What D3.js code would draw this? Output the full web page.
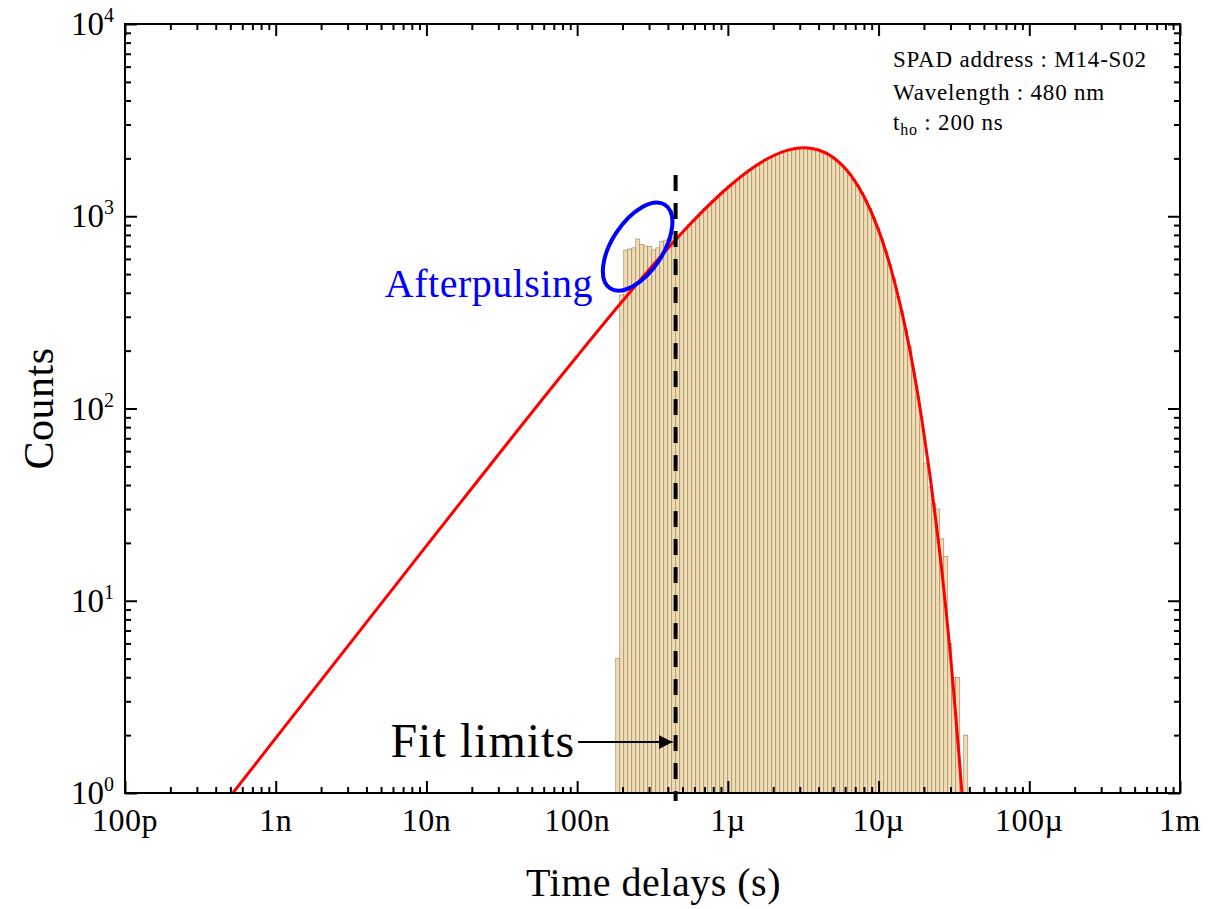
<!DOCTYPE html>
<html><head><meta charset="utf-8">
<script src="https://cdn.jsdelivr.net/npm/d3@7"></script>
<style>
body{margin:0;background:#fff}
text{font-family:"Liberation Serif","Times New Roman",serif;fill:#000}
</style>
</head><body>
<svg id="chart" width="1228" height="909"></svg>
<script>
// ---------------- data ----------------
const xTickValues = [1e-10, 1e-9, 1e-8, 1e-7, 1e-6, 1e-5, 1e-4, 1e-3];
const xTickLabels = ["100p", "1n", "10n", "100n", "1\u00b5", "10\u00b5", "100\u00b5", "1m"];
const yTickValues = [1, 10, 100, 1000, 10000];
const yTickExponents = ["0", "1", "2", "3", "4"];

// histogram: log-spaced bins (log10 of seconds)
const binStartLog = -6.7439;
const binWidthLog = 0.02654;
const binCounts = [
  5, 390, 667, 676, 685, 762, 712, 700, 695, 668,
  685, 738, 752, 767, 775, 776, 817, 860, 905, 951,
  999, 1049, 1101, 1153, 1208, 1264, 1321, 1380, 1439, 1499,
  1559, 1620, 1681, 1741, 1800, 1859, 1915, 1970, 2021, 2070,
  2115, 2155, 2191, 2220, 2244, 2260, 2268, 2269, 2261, 2244,
  2216, 2180, 2134, 2077, 2011, 1936, 1852, 1760, 1661, 1555,
  1445, 1330, 1215, 1099, 984, 870, 761, 658, 562, 476,
  382, 319, 257, 210, 155, 115, 82, 52, 39, 32,
  30, 21, 17, 6, 4, 4, 1, 2
];

// fitted curve
const fitTimes = [5.2e-10, 1e-9, 1e-8, 1e-7, 2e-7, 3e-7, 5e-7, 7e-7, 1e-6, 1.5e-6,
  2e-6, 2.5e-6, 2.8e-6, 3.2e-6, 3.6e-6, 4e-6, 5e-6, 6e-6, 7e-6, 8e-6,
  1e-5, 1.2e-5, 1.4e-5, 1.6e-5, 1.8e-5, 2e-5, 2.2e-5, 2.4e-5, 2.6e-5, 2.8e-5,
  3e-5, 3.2e-5, 3.4e-5, 3.6e-5];
const fitCounts = [1.0, 1.93, 19.3, 187, 362, 527, 825, 1085, 1411, 1810,
  2064, 2207, 2251, 2270, 2254, 2210, 2021, 1775, 1514, 1266,
  847, 544, 340, 208, 125, 74, 44, 26, 15.5, 9,
  5.2, 2.9, 1.65, 0.93];

// annotations
const fitLimitTime = 4.5e-7;
const fitLimitTopCount = 1640;
const arrowStartTime = 1e-7;
const arrowCount = 1.84;
const fitLabel = "Fit limits";
const afterLabel = "Afterpulsing";
const afterEllipseTime = 2.52e-7;
const afterEllipseCount = 695;
const infoLines = ["SPAD address : M14-S02", "Wavelength : 480 nm"];
const xTitle = "Time delays (s)";
const yTitle = "Counts";

// ---------------- layout ----------------
const L = 125, R = 1180, T = 24, B = 793;
const svg = d3.select("#chart");

const x = d3.scaleLog().domain([1e-10, 1e-3]).range([L, R]);
const y = d3.scaleLog().domain([1, 1e4]).range([B, T]);

const defs = svg.append("defs");
defs.append("clipPath").attr("id", "plotclip")
  .append("rect").attr("x", L).attr("y", T).attr("width", R - L).attr("height", B - T);

// bars
const bars = binCounts.map((c, i) => ({
  t0: Math.pow(10, binStartLog + i * binWidthLog),
  t1: Math.pow(10, binStartLog + (i + 1) * binWidthLog),
  c
}));
svg.append("g").attr("clip-path", "url(#plotclip)")
  .selectAll("rect").data(bars).join("rect")
  .attr("x", d => x(d.t0))
  .attr("width", d => x(d.t1) - x(d.t0))
  .attr("y", d => y(d.c))
  .attr("height", d => y(1) - y(d.c))
  .attr("fill", "#f3ddb3")
  .attr("stroke", "#9d8f72")
  .attr("stroke-width", 0.7);

// fit curve
const line = d3.line().x(d => x(d[0])).y(d => y(d[1])).curve(d3.curveMonotoneX);
svg.append("path").attr("clip-path", "url(#plotclip)")
  .datum(fitTimes.map((t, i) => [t, fitCounts[i]]))
  .attr("d", line).attr("fill", "none").attr("stroke", "#ff0000").attr("stroke-width", 3);

// axes: ticks inward, all four sides
function minorValues(lo, hi) {
  const v = [];
  for (let e = lo; e < hi; e++) for (let k = 2; k <= 9; k++) v.push(k * Math.pow(10, e));
  return v;
}
const xMinor = minorValues(-10, -3);
const yMinor = minorValues(0, 4);

function addAxis(gen, tr, vals, size) {
  const g = svg.append("g").attr("transform", tr)
    .call(gen.tickValues(vals).tickSize(size).tickSizeOuter(0).tickFormat(""));
  g.select(".domain").remove();
  g.selectAll("line").attr("stroke", "#000").attr("stroke-width", 2);
}
addAxis(d3.axisBottom(x), `translate(0,${B})`, xTickValues, -12);
addAxis(d3.axisBottom(x), `translate(0,${B})`, xMinor, -6);
addAxis(d3.axisTop(x), `translate(0,${T})`, xTickValues, -12);
addAxis(d3.axisTop(x), `translate(0,${T})`, xMinor, -6);
addAxis(d3.axisLeft(y), `translate(${L},0)`, yTickValues, -12);
addAxis(d3.axisLeft(y), `translate(${L},0)`, yMinor, -6);
addAxis(d3.axisRight(y), `translate(${R},0)`, yTickValues, -12);
addAxis(d3.axisRight(y), `translate(${R},0)`, yMinor, -6);

// frame
svg.append("rect").attr("x", L).attr("y", T).attr("width", R - L).attr("height", B - T)
  .attr("fill", "none").attr("stroke", "#000").attr("stroke-width", 2);

// x tick labels
svg.append("g").selectAll("text").data(xTickValues).join("text")
  .attr("x", d => x(d)).attr("y", B + 38)
  .attr("text-anchor", "middle").attr("font-size", 32).attr("letter-spacing", 0.5)
  .text((d, i) => xTickLabels[i]);

// y tick labels
const yl = svg.append("g").selectAll("text").data(yTickValues).join("text")
  .attr("x", L - 11).attr("y", d => y(d) + 11)
  .attr("text-anchor", "end").attr("font-size", 33);
yl.append("tspan").text("10");
yl.append("tspan").attr("dy", -13).attr("font-size", 20).text((d, i) => yTickExponents[i]);

// titles
svg.append("text").attr("x", (L + R) / 2 + 1).attr("y", 896).attr("text-anchor", "middle")
  .attr("font-size", 40).attr("letter-spacing", 0.5).text(xTitle);
svg.append("text").attr("transform", `translate(53,${(T + B) / 2}) rotate(-90)`)
  .attr("text-anchor", "middle").attr("font-size", 42).attr("letter-spacing", 0.5).text(yTitle);

// info text
const info = svg.append("g");
infoLines.forEach((s, i) => {
  info.append("text").attr("x", 893).attr("y", 67 + i * 32.5)
    .attr("font-size", 23).attr("letter-spacing", 0.8).text(s);
});
const tho = info.append("text").attr("x", 893).attr("y", 130)
  .attr("font-size", 23).attr("letter-spacing", 0.8);
tho.append("tspan").text("t");
tho.append("tspan").attr("dy", 5).attr("font-size", 16).text("ho");
tho.append("tspan").attr("dy", -5).text(" : 200 ns");

// fit limit dashed line
svg.append("line")
  .attr("x1", x(fitLimitTime)).attr("x2", x(fitLimitTime))
  .attr("y1", y(fitLimitTopCount)).attr("y2", B + 8)
  .attr("stroke", "#000").attr("stroke-width", 4).attr("stroke-dasharray", "16,12");

// arrow
defs.append("marker").attr("id", "arrowhead")
  .attr("viewBox", "0 0 10 10").attr("refX", 10).attr("refY", 5)
  .attr("markerWidth", 7).attr("markerHeight", 7).attr("markerUnits", "strokeWidth")
  .attr("orient", "auto")
  .append("path").attr("d", "M0,0 L10,5 L0,10 z").attr("fill", "#000");
svg.append("line")
  .attr("x1", x(arrowStartTime) + 1).attr("x2", x(fitLimitTime) - 3)
  .attr("y1", y(arrowCount)).attr("y2", y(arrowCount))
  .attr("stroke", "#000").attr("stroke-width", 2).attr("marker-end", "url(#arrowhead)");
svg.append("text").attr("x", x(arrowStartTime) - 2).attr("y", y(arrowCount) + 15)
  .attr("text-anchor", "end").attr("font-size", 48).attr("letter-spacing", 1).text(fitLabel);

// afterpulsing
svg.append("ellipse")
  .attr("transform", `translate(${x(afterEllipseTime)},${y(afterEllipseCount)}) rotate(-56.7)`)
  .attr("rx", 50).attr("ry", 25.5)
  .attr("fill", "none").attr("stroke", "#0000ff").attr("stroke-width", 4);
svg.append("text").attr("x", 593).attr("y", 297).attr("text-anchor", "end")
  .attr("font-size", 40).attr("letter-spacing", 0.5).style("fill", "#0000ff").text(afterLabel);
</script>
</body></html>
